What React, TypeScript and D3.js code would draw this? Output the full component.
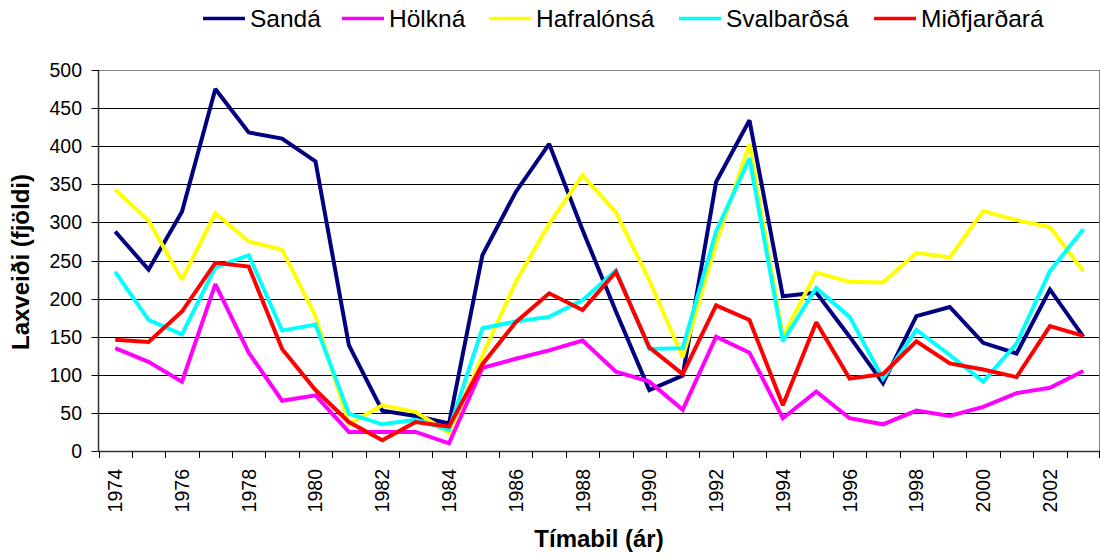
import React from "react";
import * as d3 from "d3";

// Laxveiði í ám á norðausturlandi, 1974-2003
const years = d3.range(1974, 2004);
const yearLabels = years.filter((y, i) => i % 2 === 0);
const yTicks = [0, 50, 100, 150, 200, 250, 300, 350, 400, 450, 500];

const sanda = [288, 238, 314, 475, 418, 410, 380, 139, 53, 46, 36, 257, 340, 403, 290, 183, 80, 99, 353, 434, 203, 208, 150, 89, 177, 189, 142, 128, 212, 150];
const holkna = [135, 117, 91, 219, 129, 66, 73, 25, 25, 25, 10, 109, 121, 132, 145, 104, 91, 54, 150, 129, 43, 78, 43, 35, 53, 46, 58, 76, 83, 105];
const hafralonsa = [343, 302, 225, 312, 275, 264, 177, 35, 60, 51, 24, 125, 222, 298, 362, 313, 224, 123, 272, 403, 150, 234, 222, 221, 260, 254, 315, 303, 294, 236];
const svalbardsa = [235, 172, 153, 241, 257, 158, 166, 49, 35, 41, 28, 161, 170, 176, 198, 237, 134, 135, 288, 384, 144, 214, 176, 95, 159, 126, 91, 141, 236, 291];
const midfjardara = [146, 143, 183, 247, 242, 134, 80, 38, 14, 38, 32, 114, 169, 207, 185, 235, 136, 101, 191, 172, 60, 169, 95, 101, 144, 115, 107, 97, 164, 151];

const seriesNames = ["Sandá", "Hölkná", "Hafralónsá", "Svalbarðsá", "Miðfjarðará"];
const seriesValues = [sanda, holkna, hafralonsa, svalbardsa, midfjardara];
const colors = ["#000080", "#FF00FF", "#FFFF00", "#00FFFF", "#FF0000"];

// legend layout (left edge of each key line)
const legendX = [203, 342, 489, 679, 874];

const W = 1101;
const H = 559;
const left = 98.5;
const right = 1100;
const top = 70;
const bottom = 451;
const font = "'Liberation Sans', Arial, sans-serif";

const App = () => {
    const x = d3.scaleBand<number>().domain(years).range([left, right]).padding(0);
    const y = d3.scaleLinear().domain([0, 500]).range([bottom, top]);
    const cx = (yr: number) => (x(yr) as number) + x.bandwidth() / 2;

    const line = d3
        .line<number>()
        .x((d, i) => cx(years[i]))
        .y(d => y(d));

    return (
        <svg width={W} height={H} style={{ position: "absolute", left: 0, top: 0 }} fontFamily={font}>
            <rect x={0} y={0} width={W} height={H} fill="#fff" />

            {/* gridlines */}
            {yTicks.map(t => (
                <line key={"g" + t} x1={left} x2={right} y1={Math.round(y(t)) + 0.5} y2={Math.round(y(t)) + 0.5}
                    stroke={t === 500 ? "#808080" : "#000"} strokeWidth={1} />
            ))}
            <line x1={right - 0.5} x2={right - 0.5} y1={top} y2={bottom} stroke="#808080" strokeWidth={1} />

            {/* y axis */}
            <line x1={left} x2={left} y1={top} y2={bottom + 0.5} stroke="#333" strokeWidth={1.5} />
            {yTicks.map(t => (
                <g key={"yt" + t}>
                    <line x1={left - 7} x2={left} y1={Math.round(y(t)) + 0.5} y2={Math.round(y(t)) + 0.5} stroke="#000" />
                    <text x={82} y={y(t)} dy="0.36em" textAnchor="end" fontSize={19.5} fill="#000">{t}</text>
                </g>
            ))}

            {/* x axis */}
            <line x1={left} x2={right} y1={bottom + 0.5} y2={bottom + 0.5} stroke="#333" strokeWidth={1.5} />
            {years.map(yr => (
                <line key={"xt" + yr} x1={Math.round(x(yr) as number) + 0.5} x2={Math.round(x(yr) as number) + 0.5}
                    y1={bottom} y2={bottom + 7} stroke="#000" />
            ))}
            <line x1={right - 0.5} x2={right - 0.5} y1={bottom} y2={bottom + 7} stroke="#000" />
            {yearLabels.map(yr => (
                <text key={"xl" + yr} transform={`translate(${cx(yr) + 7},469) rotate(-90)`} textAnchor="end"
                    fontSize={19.5} fill="#000">{yr}</text>
            ))}

            {/* series */}
            {seriesValues.map((vals, i) => (
                <path key={seriesNames[i]} d={line(vals) as string} fill="none" stroke={colors[i]}
                    strokeWidth={4} strokeLinejoin="miter" strokeMiterlimit={2} />
            ))}

            {/* axis titles */}
            <text transform="translate(29,262) rotate(-90)" textAnchor="middle" fontSize={24} fontWeight="bold" fill="#000">
                Laxveiði (fjöldi)
            </text>
            <text x={599} y={547} textAnchor="middle" fontSize={24} fontWeight="bold" fill="#000">
                Tímabil (ár)
            </text>

            {/* legend */}
            {seriesNames.map((name, i) => (
                <g key={"lg" + name} transform={`translate(${legendX[i]},18.5)`}>
                    <line x1={0} x2={42} y1={0} y2={0} stroke={colors[i]} strokeWidth={3.5} />
                    <text x={47} y={8.5} fontSize={24.5} fill="#000">{name}</text>
                </g>
            ))}
        </svg>
    );
};

export default App;
